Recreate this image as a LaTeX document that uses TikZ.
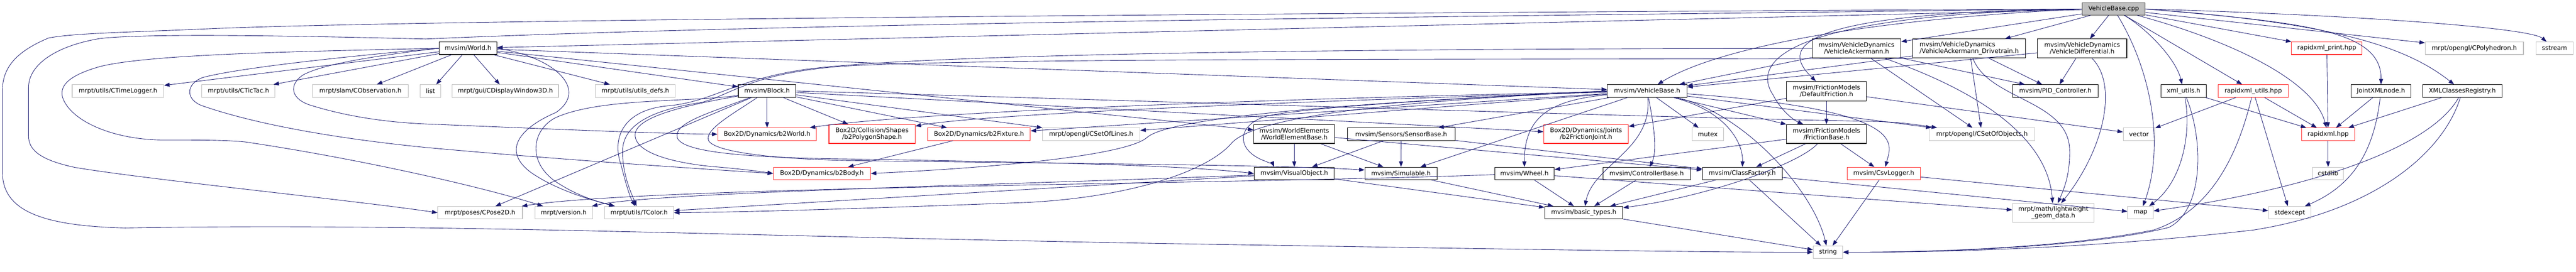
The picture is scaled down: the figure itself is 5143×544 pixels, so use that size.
\documentclass[tikz,border=0pt]{standalone}
\usepackage{fontspec}
\newfontfamily\gfam{DejaVu Sans}
\usetikzlibrary{arrows.meta,calc}
\definecolor{edgec}{HTML}{191970}
\definecolor{extc}{HTML}{BFBFBF}
\definecolor{redc}{HTML}{FF2A2A}
\definecolor{rootf}{HTML}{BFBFBF}
\definecolor{rootd}{HTML}{404040}
\newcommand{\mknode}[7]{\node[#1, minimum width=#5pt, minimum height=#6pt] (#2) at (#3,#4) {#7};}
\begin{document}
\begin{tikzpicture}[x=1pt,y=-1pt,
  nd/.style={rectangle, inner sep=0pt, font=\gfam\fontsize{12.4}{13.4}\selectfont, align=center, line width=1.1pt},
  blk/.style={nd, draw=black},
  ext/.style={nd, draw=extc},
  rnd/.style={nd, draw=redc},
  rootn/.style={nd, draw=rootd, fill=rootf},
  e/.style={draw=edgec, line width=0.9pt, -{Triangle[length=11pt,width=8pt]}},
]
\fill[white] (0,0) rectangle (5143,544);
\useasboundingbox (0,0) rectangle (5143,544);

% ---- row 0/1
\mknode{rootn}{root}{4220}{18}{126}{24}{VehicleBase.cpp}
\mknode{blk}{world}{934.5}{96.5}{115}{25}{mvsim/World.h}
\mknode{blk}{ack}{3706.5}{97}{177}{38}{mvsim/VehicleDynamics\\/VehicleAckermann.h}
\mknode{blk,align=left}{drv}{3931.5}{97}{225}{38}{mvsim/VehicleDynamics\\/VehicleAckermann\_Drivetrain.h}
\mknode{blk}{dif}{4157}{97}{178}{38}{mvsim/VehicleDynamics\\/VehicleDifferential.h}
\mknode{rnd}{rxprint}{4645.5}{96.5}{141}{25}{rapidxml\_print.hpp}
\mknode{ext}{poly}{4940}{96.5}{196}{25}{mrpt/opengl/CPolyhedron.h}
\mknode{ext}{sstream}{5100}{96.5}{74}{25}{sstream}
% ---- row 2
\mknode{ext}{timelog}{235.5}{182}{183}{25}{mrpt/utils/CTimeLogger.h}
\mknode{ext}{tictac}{476}{182}{146}{25}{mrpt/utils/CTicTac.h}
\mknode{ext}{obs}{719.5}{182}{191}{25}{mrpt/slam/CObservation.h}
\mknode{ext}{list}{859.5}{182}{41}{25}{list}
\mknode{ext}{disp}{1009}{182}{212}{25}{mrpt/gui/CDisplayWindow3D.h}
\mknode{ext}{udefs}{1268.5}{182}{159}{25}{mrpt/utils/utils\_defs.h}
\mknode{blk}{block}{1531.5}{182}{115}{25}{mvsim/Block.h}
\mknode{blk}{vbh}{3288.5}{182}{159}{25}{mvsim/VehicleBase.h}
\mknode{blk}{deffric}{3646.5}{182.5}{159}{39}{mvsim/FrictionModels\\/DefaultFriction.h}
\mknode{blk}{pid}{4103.5}{182}{171}{25}{mvsim/PID\_Controller.h}
\mknode{blk}{xmlu}{4359.5}{182}{91}{25}{xml\_utils.h}
\mknode{rnd}{rxutils}{4498.5}{182}{139}{25}{rapidxml\_utils.hpp}
\mknode{blk}{joint}{4753.5}{182}{119}{25}{JointXMLnode.h}
\mknode{blk}{xmlreg}{4916}{182}{158}{25}{XMLClassesRegistry.h}
% ---- row 3
\mknode{rnd}{b2world}{1531.5}{268.5}{197}{25}{Box2D/Dynamics/b2World.h}
\mknode{rnd}{b2poly}{1741}{268}{172}{38}{Box2D/Collision/Shapes\\/b2PolygonShape.h}
\mknode{rnd}{b2fix}{1954.5}{268.5}{205}{25}{Box2D/Dynamics/b2Fixture.h}
\mknode{ext}{setlines}{2178.5}{268.5}{195}{25}{mrpt/opengl/CSetOfLines.h}
\mknode{blk}{web}{2584}{268}{162}{38}{mvsim/WorldElements\\/WorldElementBase.h}
\mknode{blk}{sensor}{2797.5}{268.5}{215}{25}{mvsim/Sensors/SensorBase.h}
\mknode{rnd}{fjoint}{3166.5}{268}{169}{38}{Box2D/Dynamics/Joints\\/b2FrictionJoint.h}
\mknode{ext}{mutex}{3409.5}{268.5}{63}{25}{mutex}
\mknode{blk}{fbase}{3646.5}{268}{159}{38}{mvsim/FrictionModels\\/FrictionBase.h}
\mknode{ext}{setobj}{3957}{268.5}{210}{25}{mrpt/opengl/CSetOfObjects.h}
\mknode{ext}{vector}{4270.5}{268.5}{63}{25}{vector}
\mknode{rnd}{rapidxml}{4648}{268.5}{106}{25}{rapidxml.hpp}
% ---- row 4
\mknode{rnd}{b2body}{1641}{347}{194}{25}{Box2D/Dynamics/b2Body.h}
\mknode{blk}{visobj}{2584}{347}{160}{25}{mvsim/VisualObject.h}
\mknode{blk}{simul}{2797}{347}{144}{25}{mvsim/Simulable.h}
\mknode{blk}{wheel}{3043.5}{347}{119}{25}{mvsim/Wheel.h}
\mknode{blk}{ctrl}{3287.5}{347}{175}{25}{mvsim/ControllerBase.h}
\mknode{blk}{cfact}{3478.5}{347}{159}{25}{mvsim/ClassFactory.h}
\mknode{rnd}{csv}{3761}{347}{146}{25}{mvsim/CsvLogger.h}
\mknode{ext}{cstdlib}{4648}{347}{62}{25}{cstdlib}
% ---- row 5
\mknode{ext}{pose}{958.5}{425.5}{169}{25}{mrpt/poses/CPose2D.h}
\mknode{ext}{version}{1125.5}{425.5}{115}{25}{mrpt/version.h}
\mknode{ext}{tcolor}{1276}{425.5}{138}{25}{mrpt/utils/TColor.h}
\mknode{blk}{btypes}{3162}{425.5}{156}{25}{mvsim/basic\_types.h}
\mknode{ext}{lw}{4099.5}{426}{163}{38}{mrpt/math/lightweight\\\_geom\_data.h}
\mknode{ext}{map}{4273.5}{425.5}{51}{25}{map}
\mknode{ext}{stdexc}{4571.5}{425.5}{85}{25}{stdexcept}
% ---- row 6
\mknode{ext}{string}{3649.5}{504.5}{59}{25}{string}

% ================= edges
% root
\draw[e] (root) -- (world);
\draw[e] (root.west) .. controls (3700,40) and (3420,100) .. (vbh);
\draw[e] (root) -- (ack);
\draw[e] (root) -- (drv);
\draw[e] (root) -- (dif);
\draw[e] (root.west) .. controls (3560,25) and (3560,100) .. (deffric);
\draw[e] (root.west) .. controls (3540,30) and (3500,130) .. (3540,190) .. controls (3555,220) and (3580,240) .. (fbase);
\draw[e] (root) .. controls (4290,60) and (4345,120) .. (xmlu);
\draw[e] (root) -- (rxutils);
\draw[e] (root) .. controls (4450,80) and (4620,160) .. (rapidxml);
\draw[e] (root) -- (rxprint);
\draw[e] (root.east) .. controls (4600,45) and (4755,60) .. (joint);
\draw[e] (root.east) .. controls (4650,45) and (4800,90) .. (xmlreg);
\draw[e] (root) -- (poly);
\draw[e] (root.east) .. controls (4700,30) and (5050,55) .. (sstream);
\draw[e] (root) .. controls (4300,150) and (4320,300) .. (map);
\draw[e] (root.west) .. controls (2800,25) and (900,38) .. (430,57) .. controls (250,65) and (150,66) .. (97,76) .. controls (40,100) and (5,130) .. (5,180) -- (5,345) .. controls (5,420) and (80,452) .. (250,456) .. controls (900,445) and (1500,475) .. (2500,490) .. controls (3100,500) and (3450,505) .. (string.west);
\draw[e] (root.west) .. controls (3000,32) and (1600,45) .. (850,78) .. controls (600,72) and (300,66) .. (200,77) .. controls (110,92) and (57,130) .. (57,175) -- (57,272) .. controls (57,300) and (80,320) .. (150,335) .. controls (300,360) and (700,400) .. (pose.west);

% World
\draw[e] (world) -- (timelog);
\draw[e] (world) -- (tictac);
\draw[e] (world) -- (obs);
\draw[e] (world) -- (list);
\draw[e] (world) -- (disp);
\draw[e] (world) -- (udefs);
\draw[e] (world) -- (block);
\draw[e] (world) -- (web);
\draw[e] (world) -- (vbh);
\draw[e] (world.west) .. controls (600,103) and (300,108) .. (200,133) .. controls (140,150) and (118,170) .. (125,195) .. controls (140,240) and (220,278) .. (320,280) .. controls (400,280) and (450,280) .. (490,284) .. controls (700,315) and (950,370) .. (version);
\draw[e] (world.west) .. controls (700,112) and (480,135) .. (405,155) .. controls (370,168) and (370,200) .. (405,212) .. controls (500,245) and (650,275) .. (850,295) .. controls (1100,318) and (1400,338) .. (b2body.west);
\draw[e] (world.west) .. controls (780,108) and (650,125) .. (605,150) .. controls (575,170) and (580,200) .. (625,212) .. controls (700,235) and (780,245) .. (850,248) .. controls (1100,258) and (1300,267) .. (b2world.west);
\draw[e] (world.east) .. controls (1110,115) and (1175,180) .. (1110,225) .. controls (1040,255) and (1000,300) .. (1060,345) .. controls (1110,380) and (1180,400) .. (tcolor);

% Block
\draw[e] (block) -- (b2world);
\draw[e] (block) -- (b2poly);
\draw[e] (block) -- (b2fix);
\draw[e] (block) -- (setlines);
\draw[e] (block) -- (fjoint);
\draw[e] (block) -- (pose);
\draw[e] (block.east) .. controls (2400,205) and (3300,235) .. (3750,243) .. controls (3800,245) and (3830,250) .. (setobj);
\draw[e] (block) .. controls (1380,205) and (1200,195) .. (1110,235) .. controls (1060,260) and (1050,330) .. (1120,370) .. controls (1160,395) and (1200,405) .. (tcolor);
\draw[e] (block) .. controls (1360,212) and (1268,235) .. (1268,270) .. controls (1268,305) and (1340,325) .. (1420,333) .. controls (1480,338) and (1510,342) .. (b2body.west);
\draw[e] (block) .. controls (1420,225) and (1345,245) .. (1352,275) .. controls (1360,300) and (1450,315) .. (1690,318) .. controls (2100,325) and (2350,330) .. (visobj.west);
\draw[e] (block) .. controls (1460,230) and (1405,260) .. (1415,282) .. controls (1430,305) and (1550,318) .. (1690,321) .. controls (2200,328) and (2550,330) .. ($(simul.west)+(0,-7)$);

% Vehicle dynamics
\draw[e] (ack) -- (vbh);
\draw[e] (ack) -- (pid);
\draw[e] (ack) -- (setobj);
\draw[e] (ack) .. controls (4000,200) and (4090,300) .. (lw);
\draw[e] (ack.west) .. controls (2600,97) and (1800,110) .. (1600,140) .. controls (1460,162) and (1420,205) .. (1330,212) .. controls (1240,222) and (1222,280) .. (1240,330) .. controls (1250,370) and (1258,395) .. (tcolor);
\draw[e] (drv) -- (vbh);
\draw[e] (drv) -- (pid);
\draw[e] (drv) -- (setobj);
\draw[e] (drv) .. controls (3970,200) and (4130,200) .. (4132,300) .. controls (4133,350) and (4120,380) .. (lw);
\draw[e] (drv.south west) .. controls (3000,120) and (2000,115) .. (1690,132) .. controls (1500,145) and (1460,190) .. (1400,205) .. controls (1300,220) and (1245,250) .. (1243,300) .. controls (1242,350) and (1262,390) .. (tcolor);
\draw[e] (dif) -- (vbh);
\draw[e] (dif) -- (pid);
\draw[e] (dif) .. controls (4230,170) and (4200,300) .. (lw);

% VehicleBase.h
\draw[e] (vbh) .. controls (2200,205) and (1750,235) .. (b2world);
\draw[e] (vbh) .. controls (2500,205) and (1950,230) .. (b2poly);
\draw[e] (vbh) -- (b2fix);
\draw[e] (vbh) -- (setlines);
\draw[e] (vbh) -- (sensor);
\draw[e] (vbh) -- (simul);
\draw[e] (vbh) -- (fbase);
\draw[e] (vbh) -- (mutex);
\draw[e] (vbh) -- (setobj);
\draw[e] (vbh.west) .. controls (3000,192) and (2620,212) .. (2530,232) .. controls (2470,248) and (2465,300) .. (2525,322) .. controls (2535,326) and (2542,330) .. ($(visobj.north west)+(40,0)$);
\draw[e] (vbh.west) .. controls (2850,200) and (2520,225) .. (2460,285) .. controls (2410,345) and (2250,395) .. (2050,405) .. controls (1700,418) and (1500,424) .. (tcolor.east);
\draw[e] (vbh.west) .. controls (2600,210) and (2330,240) .. (2290,275) .. controls (2250,310) and (2000,335) .. (b2body.east);
\draw[e] (vbh) .. controls (3100,200) and (3043,230) .. (wheel);
\draw[e] (vbh) .. controls (3300,300) and (3180,330) .. (btypes);
\draw[e] (vbh) .. controls (3300,240) and (3310,300) .. (ctrl);
\draw[e] (vbh) .. controls (3440,220) and (3480,280) .. (cfact);
\draw[e] (vbh) .. controls (3480,225) and (3620,380) .. (string);
\draw[e] (vbh) .. controls (3820,220) and (3775,290) .. (csv);

% friction
\draw[e] (deffric) -- (fbase);
\draw[e] (deffric) -- (fjoint);
\draw[e] (deffric) -- (vector);
\draw[e] (fbase) -- (wheel);
\draw[e] (fbase) -- (cfact);
\draw[e] (fbase) -- (csv);
\draw[e] (fbase) .. controls (3590,330) and (3400,395) .. (btypes);

% world elements / sensors / objects
\draw[e] (web) -- (visobj);
\draw[e] (web) -- (simul);
\draw[e] (web) -- (cfact);
\draw[e] (sensor) -- (visobj);
\draw[e] (sensor) -- (simul);
\draw[e] (sensor) -- (cfact);
\draw[e] (visobj) -- (btypes);
\draw[e] (visobj) -- (tcolor);
\draw[e] (visobj) .. controls (2000,370) and (1300,385) .. (version);
\draw[e] (simul) -- (btypes);
\draw[e] (wheel) -- (btypes);
\draw[e] (wheel) -- (lw);
\draw[e] (wheel) .. controls (2500,368) and (1300,372) .. (pose);
\draw[e] (ctrl) -- (btypes);
\draw[e] (cfact) -- (btypes);
\draw[e] (cfact) -- (string);
\draw[e] (cfact) -- (map);
\draw[e] (csv) -- (string);
\draw[e] (csv) -- (stdexc);
\draw[e] (btypes) -- (string);
\draw[e] (b2fix) -- (b2body);

% xml
\draw[e] (xmlu) -- (rapidxml);
\draw[e] (xmlu) .. controls (4375,260) and (4360,360) .. (map);
\draw[e] (xmlu) .. controls (4400,280) and (4400,420) .. (4330,455) .. controls (4150,500) and (3800,505) .. (string.east);
\draw[e] (rxutils) -- (vector);
\draw[e] (rxutils) -- (rapidxml);
\draw[e] (rxutils) -- (stdexc);
\draw[e] (rxutils) .. controls (4470,300) and (4420,420) .. (4300,460) .. controls (4100,500) and (3800,505) .. (string.east);
\draw[e] (joint) -- (rapidxml);
\draw[e] (joint) .. controls (4740,300) and (4700,370) .. (stdexc);
\draw[e] (xmlreg) -- (rapidxml);
\draw[e] (xmlreg) .. controls (4850,300) and (4600,380) .. (map);
\draw[e] (xmlreg) .. controls (4880,300) and (4750,420) .. (4500,460) .. controls (4200,495) and (3900,505) .. (string.east);
\draw[e] (rxprint) -- (rapidxml);
\draw[e] (rapidxml) -- (cstdlib);
\end{tikzpicture}
\end{document}
